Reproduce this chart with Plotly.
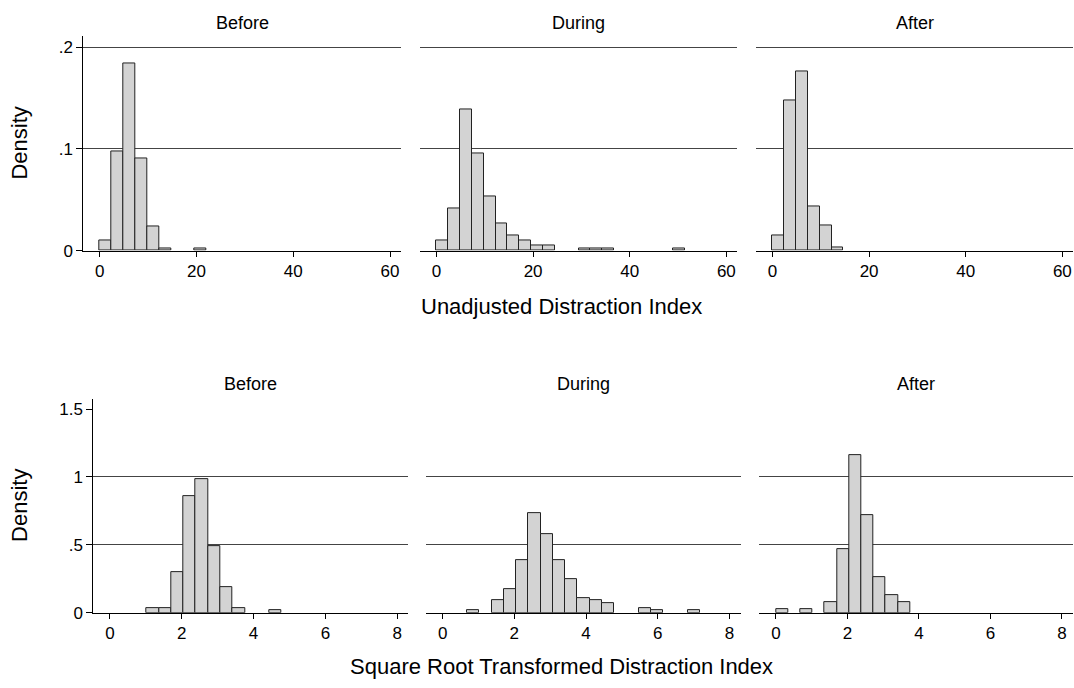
import plotly.graph_objects as go

# Histogram densities by period, common bins across the three periods
periods = ["Before", "During", "After"]

# Unadjusted index: 21 bins of width 2.45 starting at 0
raw_bin_start = 0.0
raw_bin_width = 2.45
raw_before = [0.0097, 0.0977, 0.1835, 0.0903, 0.0242, 0.0026, 0, 0, 0.0026, 0,
              0, 0, 0, 0, 0, 0, 0, 0, 0, 0, 0]
raw_during = [0.0097, 0.0416, 0.139, 0.0952, 0.0535, 0.0268, 0.0145, 0.0097, 0.0048, 0.0048,
              0, 0, 0.0026, 0.0026, 0.0026, 0, 0, 0, 0, 0, 0.0026]
raw_after = [0.0145, 0.1477, 0.1765, 0.0429, 0.0248, 0.0035, 0, 0, 0, 0,
             0, 0, 0, 0, 0, 0, 0, 0, 0, 0, 0]

# Square-root transformed index: 21 bins of width 0.3415 starting at 0
sqrt_bin_start = 0.0
sqrt_bin_width = 0.3415
sqrt_before = [0, 0, 0, 0.034, 0.034, 0.298, 0.857, 0.981, 0.494, 0.191,
               0.034, 0, 0, 0.017, 0, 0, 0, 0, 0, 0, 0]
sqrt_during = [0, 0, 0.017, 0, 0.0896, 0.177, 0.385, 0.734, 0.579, 0.385,
               0.247, 0.107, 0.0896, 0.070, 0, 0, 0.036, 0.019, 0, 0, 0.019]
sqrt_after = [0.027, 0, 0.027, 0, 0.080, 0.465, 1.162, 0.722, 0.259, 0.131,
              0.080, 0, 0, 0, 0, 0, 0, 0, 0, 0, 0]

raw_xticks = [0, 20, 40, 60]
sqrt_xticks = [0, 2, 4, 6, 8]
raw_yticks = [0, 0.1, 0.2]
raw_yticklabels = ["0", ".1", ".2"]
raw_ygrid = [0.1, 0.2]
sqrt_yticks = [0, 0.5, 1, 1.5]
sqrt_yticklabels = ["0", ".5", "1", "1.5"]
sqrt_ygrid = [0.5, 1]

W, H = 1074, 688
FONT = "Liberation Sans, Arial, sans-serif"
BAR_FILL = "#d3d3d3"
BAR_EDGE = "#222222"
GRID = "#444444"


def fx(px):
    return px / W


def fy(px):
    return 1 - px / H


rows = [
    dict(data=[raw_before, raw_during, raw_after], start=raw_bin_start, width=raw_bin_width,
         xdom=[(83.3, 400.7), (420, 737), (756, 1073)], ydom=(37, 254.3),
         xrange=[-3.4, 62.2], yrange=[0, 0.2104], xticks=raw_xticks,
         yticks=raw_yticks, yticklabels=raw_yticklabels, ygrid=raw_ygrid,
         title_y=23, xtitle="Unadjusted Distraction Index", xtitle_y=311),
    dict(data=[sqrt_before, sqrt_during, sqrt_after], start=sqrt_bin_start, width=sqrt_bin_width,
         xdom=[(93.3, 408.3), (426, 740.7), (759.3, 1073)], ydom=(405, 621.7),
         xrange=[-0.463, 8.31], yrange=[0, 1.574], xticks=sqrt_xticks,
         yticks=sqrt_yticks, yticklabels=sqrt_yticklabels, ygrid=sqrt_ygrid,
         title_y=390, xtitle="Square Root Transformed Distraction Index", xtitle_y=676),
]

fig = go.Figure()
layout = {}
annotations = []
k = 0
for r, row in enumerate(rows):
    for c, dens in enumerate(row["data"]):
        k += 1
        xa = "x" if k == 1 else f"x{k}"
        ya = "y" if k == 1 else f"y{k}"
        # only non-empty bins are drawn
        centers = [row["start"] + (i + 0.5) * row["width"] for i, d in enumerate(dens) if d > 0]
        heights = [d for d in dens if d > 0]
        fig.add_trace(go.Bar(
            x=centers, y=heights, width=row["width"],
            marker=dict(color=BAR_FILL, line=dict(color=BAR_EDGE, width=1)),
            xaxis=xa, yaxis=ya, showlegend=False, hoverinfo="x+y",
        ))
        x0, x1 = row["xdom"][c]
        layout["xaxis" if k == 1 else f"xaxis{k}"] = dict(
            domain=[fx(x0), fx(x1)], anchor=ya, range=row["xrange"],
            tickvals=row["xticks"], ticks="outside", ticklen=5, tickwidth=1,
            tickcolor="#000", showline=True, linecolor="#000", linewidth=1,
            showgrid=False, zeroline=False,
            tickfont=dict(family=FONT, size=17, color="#000"),
        )
        first = c == 0
        layout["yaxis" if k == 1 else f"yaxis{k}"] = dict(
            domain=[fy(row["ydom"][1]), fy(row["ydom"][0])], anchor=xa,
            range=row["yrange"], tickvals=row["yticks"], ticktext=row["yticklabels"],
            showticklabels=first, ticks="outside" if first else "", ticklen=6,
            tickwidth=1, tickcolor="#000", showline=first, linecolor="#000",
            linewidth=1, showgrid=False, zeroline=False,
            minor=dict(tickvals=row["ygrid"], showgrid=True, gridcolor=GRID,
                       gridwidth=1, ticks=""),
            tickfont=dict(family=FONT, size=17, color="#000"),
        )
        annotations.append(dict(
            text=periods[c], x=fx((x0 + x1) / 2), y=fy(row["title_y"]),
            xref="paper", yref="paper", xanchor="center", yanchor="middle",
            showarrow=False, font=dict(family=FONT, size=18, color="#000"),
        ))
    annotations.append(dict(
        text=row["xtitle"], x=fx(561), y=fy(row["xtitle_y"]),
        xref="paper", yref="paper", xanchor="center", yanchor="middle",
        showarrow=False, font=dict(family=FONT, size=22, color="#000"),
    ))
    annotations.append(dict(
        text="Density", x=fx(20), y=fy((row["ydom"][0] + row["ydom"][1]) / 2),
        xref="paper", yref="paper", xanchor="center", yanchor="middle",
        textangle=-90, showarrow=False, font=dict(family=FONT, size=22, color="#000"),
    ))

fig.update_layout(
    width=W, height=H, margin=dict(l=0, r=0, t=0, b=0),
    paper_bgcolor="white", plot_bgcolor="white", bargap=0,
    annotations=annotations, **layout,
)
fig.write_html("out.html")
